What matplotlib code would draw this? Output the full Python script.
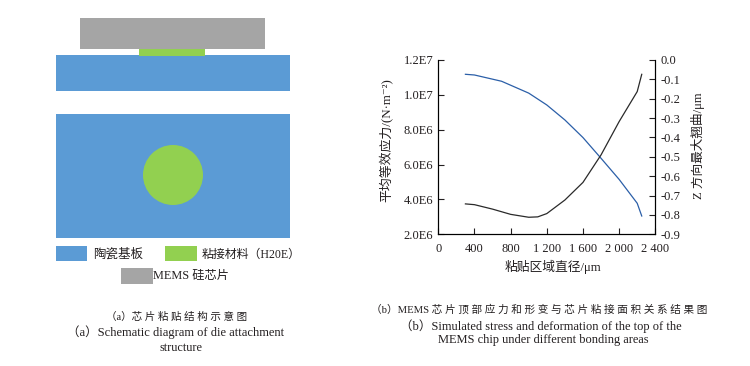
# -*- coding: utf-8 -*-
"""Die attachment schematic and stress / deformation curves."""

import matplotlib
matplotlib.use("Agg")
import matplotlib.pyplot as plt
from matplotlib.patches import Rectangle, Circle

plt.rcParams["font.family"] = ["Liberation Serif", "Noto Sans CJK SC", "DejaVu Sans"]

# Curve data.
diameter_stress = [300, 400, 700, 1000, 1200, 1400, 1600, 1800, 2000, 2200, 2250]
stress = [1.118e7, 1.114e7, 1.078e7, 1.01e7, 9.42e6, 8.56e6, 7.55e6, 6.36e6, 5.15e6, 3.78e6, 3.05e6]
diameter_warp = [300, 400, 600, 800, 1000, 1100, 1200, 1400, 1600, 1800, 2000, 2200, 2250]
warp = [-0.743, -0.747, -0.77, -0.797, -0.812, -0.81, -0.793, -0.723, -0.632, -0.49, -0.318, -0.163, -0.074]

x_ticks = [0, 400, 800, 1200, 1600, 2000, 2400]
x_labels = ["0", "400", "800", "1 200", "1 600", "2 000", "2 400"]
left_ticks = [2e6, 4e6, 6e6, 8e6, 1e7, 1.2e7]
left_labels = ["2.0E6", "4.0E6", "6.0E6", "8.0E6", "1.0E7", "1.2E7"]
right_ticks = [0.0, -0.1, -0.2, -0.3, -0.4, -0.5, -0.6, -0.7, -0.8, -0.9]
right_labels = ["0.0", "-0.1", "-0.2", "-0.3", "-0.4", "-0.5", "-0.6", "-0.7", "-0.8", "-0.9"]

BLUE = "#5b9bd5"
GREEN = "#92d050"
GRAY = "#a5a5a5"
TEXT = "#231f20"
W, H = 750, 366

fig = plt.figure(figsize=(7.5, 3.66), dpi=100)

# Full figure layer in pixel units for the schematic and captions.
page = fig.add_axes([0, 0, 1, 1])
page.set_xlim(0, W)
page.set_ylim(H, 0)
page.axis("off")


def box(x0, y0, x1, y1, color):
    page.add_patch(Rectangle((x0, y0), x1 - x0, y1 - y0, color=color, lw=0))


box(56, 55, 289.5, 91, BLUE)
box(80, 18, 264.5, 48.7, GRAY)
box(139.3, 48.7, 205, 56, GREEN)
box(56, 114, 289.5, 238, BLUE)
page.add_patch(Circle((173, 175), 30, color=GREEN, lw=0))
box(56, 245.7, 87, 261, BLUE)
box(165, 245.7, 197, 261, GREEN)
box(121, 268, 153, 284, GRAY)


def label(x, y, s, ha="center", size=9):
    page.text(x, y, s, ha=ha, va="center", fontsize=size, color=TEXT)


label(93, 254.5, "陶瓷基板", ha="left", size=9)
label(202, 254.5, "粘接材料（H20E）", ha="left", size=8.6)
label(153, 276, "MEMS 硅芯片", ha="left", size=8.8)
label(177, 317, "（a）芯 片 粘 贴 结 构 示 意 图", size=7.6)
label(176, 332, "（a）Schematic diagram of die attachment", size=9)
label(181, 348, "structure", size=8.8)
label(539, 310, "（b）MEMS 芯 片 顶 部 应 力 和 形 变 与 芯 片 粘 接 面 积 关 系 结 果 图", size=7.65)
label(541, 326, "（b）Simulated stress and deformation of the top of the", size=9)
label(543, 340, "MEMS chip under different bonding areas", size=8.9)

# Chart with two y axes.
ax = fig.add_axes([438.3 / W, 1 - 234.3 / H, 217 / W, 174.3 / H])
ax.patch.set_alpha(0)
ax.plot(diameter_stress, stress, color="#2b5fa8", lw=0.9)
ax.set_xlim(0, 2400)
ax.set_ylim(2e6, 1.2e7)
ax.set_xticks(x_ticks, x_labels)
ax.set_yticks(left_ticks, left_labels)
ax.spines["top"].set_visible(False)
ax.tick_params(direction="in", length=4, width=0.8, labelsize=9, colors=TEXT)
ax.tick_params(axis="x", pad=6)
ax.tick_params(axis="y", pad=3.5)

ax2 = ax.twinx()
ax2.plot(diameter_warp, warp, color="#2a2a2a", lw=0.9)
ax2.set_ylim(-0.9, 0)
ax2.set_yticks(right_ticks, right_labels)
ax2.spines["top"].set_visible(False)
ax2.tick_params(direction="in", length=4, width=0.8, labelsize=9, colors=TEXT, pad=3.5)

page.text(553, 266.5, "粘贴区域直径/μm", ha="center", va="center", fontsize=9.2, color=TEXT)
page.text(386, 140, "平均等效应力/(N·m⁻²)", rotation=90, ha="center", va="center", fontsize=9.3, color=TEXT)
page.text(698, 146, "Z 方向最大翘曲/μm", rotation=90, ha="center", va="center", fontsize=9.1, color=TEXT)

fig.savefig("out.png", dpi=100)
plt.close(fig)
